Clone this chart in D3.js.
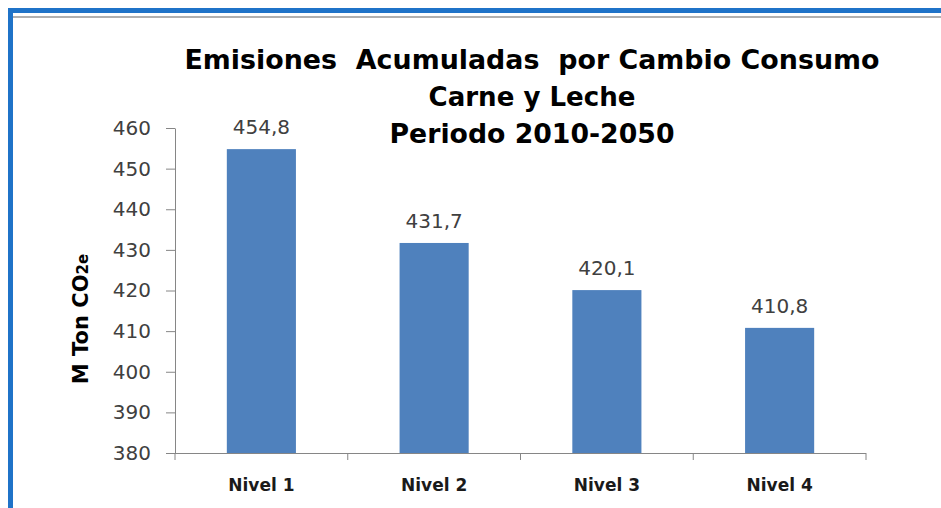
<!DOCTYPE html>
<html><head>
<meta charset="utf-8">
<title>Emisiones Acumuladas</title>
<script src="https://d3js.org/d3.v7.min.js"></script>
<style>
  body { margin: 0; background: #fff; }
  text { font-family: "DejaVu Sans", sans-serif; }
  .title { font-weight: bold; font-size: 26px; fill: #000; }
  .tick text { font-size: 20px; fill: #404040; }
  .xaxis .tick text { font-size: 17px; font-weight: bold; fill: #1a1a1a; }
  .val { font-size: 20px; fill: #404040; }
  .ylab { font-size: 21px; font-weight: bold; fill: #000; }
</style>
</head>
<body>
<svg id="chart" width="941" height="508"></svg>
<script>

// data
const categories = ["Nivel 1", "Nivel 2", "Nivel 3", "Nivel 4"];
const values = [454.8, 431.7, 420.1, 410.8];
const yTicks = [380, 390, 400, 410, 420, 430, 440, 450, 460];
const titleLines = ["Emisiones  Acumuladas  por Cambio Consumo", "Carne y Leche", "Periodo 2010-2050"];

const svg = d3.select("#chart");

// frame: blue border on top and left with a grey inner shadow
svg.append("path").attr("d", "M12,508 V17 H941").attr("fill", "none")
   .attr("stroke", "#b0b0b0").attr("stroke-width", 2);
svg.append("path").attr("d", "M10.5,508 V10.5 H941").attr("fill", "none")
   .attr("stroke", "#1f73c8").attr("stroke-width", 5);

const x = d3.scaleBand().domain(categories).range([175, 866]).paddingInner(0.6).paddingOuter(0.3);
const y = d3.scaleLinear().domain([380, 460]).range([453, 128]);

// bars
svg.selectAll("rect.bar").data(values).join("rect")
   .attr("class", "bar")
   .attr("x", (d, i) => x(categories[i]))
   .attr("width", x.bandwidth())
   .attr("y", d => y(d))
   .attr("height", d => y(380) - y(d))
   .attr("fill", "#4f81bd");

// y axis
const yAxis = svg.append("g").attr("transform", "translate(175,0)")
   .call(d3.axisLeft(y).tickValues(yTicks).tickSize(9).tickPadding(15).tickSizeOuter(0));
yAxis.select(".domain").attr("stroke", "#868686");
yAxis.selectAll(".tick line").attr("stroke", "#868686");
yAxis.selectAll(".tick text").attr("font-family", null).attr("font-size", null);

// x axis, ticks between the categories
const xAxis = svg.append("g").attr("class", "xaxis").attr("transform", "translate(0,453)")
   .call(d3.axisBottom(x).tickSize(0).tickPadding(26).tickSizeOuter(0));
xAxis.select(".domain").attr("d", "M166,0.5 H866").attr("stroke", "#868686");
xAxis.selectAll(".tick text").attr("font-family", null).attr("font-size", null);
const step = x.step();
const bounds = categories.map((c, i) => x(c) - (step - x.bandwidth()) / 2).concat([866]);
xAxis.selectAll("line.sep").data(bounds).join("line").attr("class", "sep")
   .attr("x1", d => d).attr("x2", d => d).attr("y1", 0).attr("y2", 7)
   .attr("stroke", "#868686");

// value labels
svg.selectAll("text.val").data(values).join("text")
   .attr("class", "val")
   .attr("x", (d, i) => x(categories[i]) + x.bandwidth() / 2)
   .attr("y", d => y(d) - 15)
   .attr("text-anchor", "middle")
   .text(d => d.toFixed(1).replace(".", ","));

// title
const titleY = [69, 106, 143];
const titleW = [695, 207, 285];
svg.selectAll("text.title").data(titleLines).join("text")
   .attr("class", "title")
   .attr("x", 532)
   .attr("y", (d, i) => titleY[i])
   .attr("text-anchor", "middle")
   .attr("xml:space", "preserve")
   .attr("textLength", (d, i) => titleW[i])
   .attr("lengthAdjust", "spacingAndGlyphs")
   .text(d => d);

// y axis label
const yl = svg.append("text").attr("class", "ylab")
   .attr("transform", "translate(88,319) rotate(-90)")
   .attr("text-anchor", "middle");
yl.append("tspan").text("M Ton CO");
yl.append("tspan").attr("font-size", "15px").text("2e");

</script>
</body>
</html>
